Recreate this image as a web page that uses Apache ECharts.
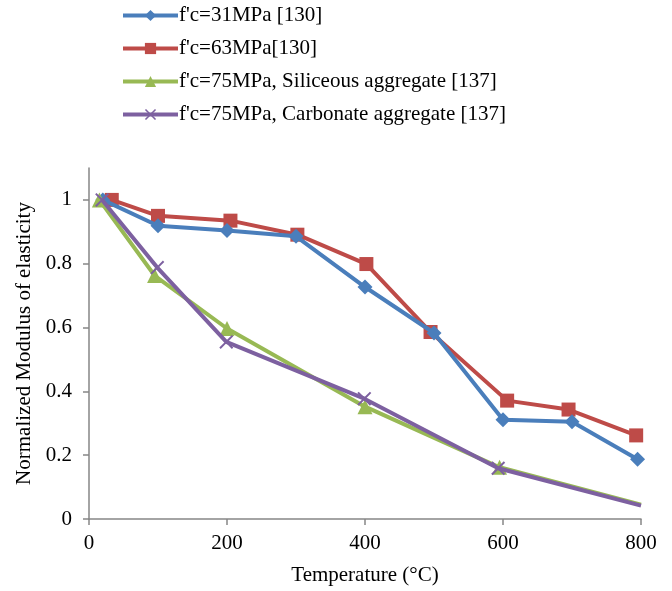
<!DOCTYPE html>
<html>
<head>
<meta charset="utf-8">
<script src="https://cdn.jsdelivr.net/npm/echarts@6/dist/echarts.min.js"></script>
<style>html,body{margin:0;padding:0;background:#fff}#c{width:672px;height:591px}</style>
</head>
<body>
<div id="c"></div>
<script>
const seriesNames = [
  "f'c=31MPa [130]",
  "f'c=63MPa[130]",
  "f'c=75MPa, Siliceous aggregate [137]",
  "f'c=75MPa, Carbonate aggregate [137]"
];
const tempBlue = [20, 100, 200, 300, 400, 500, 600, 700, 795];
const valBlue  = [1.0, 0.919, 0.904, 0.886, 0.727, 0.583, 0.311, 0.305, 0.187];
const tempRed  = [33, 100, 205, 302, 402, 495, 606, 695, 793];
const valRed   = [1.0, 0.95, 0.935, 0.891, 0.799, 0.586, 0.371, 0.343, 0.262];
const tempGreen = [15, 95, 200, 400, 595, 800];
const valGreen  = [1.0, 0.763, 0.597, 0.352, 0.162, 0.045];
const tempPurple = [19, 99, 199, 399, 593, 800];
const valPurple  = [1.0, 0.788, 0.555, 0.377, 0.159, 0.042];
const xTicks = [0, 200, 400, 600, 800];
const yTicks = [0, 0.2, 0.4, 0.6, 0.8, 1];

const colors = ['#4A7EBB', '#BE4B48', '#98B954', '#7D60A0'];
const xPath = 'path://M0,1L1,0L5,4L9,0L10,1L6,5L10,9L9,10L5,6L1,10L0,9L4,5Z';

function pts(xs, ys, hideLast) {
  return xs.map((x, i) => {
    const d = {value: [x, ys[i]]};
    if (hideLast && i === xs.length - 1) d.symbol = 'none';
    return d;
  });
}

const font = 'Liberation Serif';
const chart = echarts.init(document.getElementById('c'), null, {renderer: 'canvas'});
chart.setOption({
  animation: false,
  color: colors,
  legend: {
    orient: 'vertical',
    left: 116,
    top: 0,
    itemGap: 12,
    itemWidth: 55,
    itemHeight: 14,
    lineStyle: {width: 4},
    textStyle: {fontFamily: font, fontSize: 21, color: '#000', padding: [0,0,0,-4]},
    data: seriesNames
  },
  grid: {left: 89, right: 31, top: 168, bottom: 70, containLabel: false},
  xAxis: {
    type: 'value', min: 0, max: 800, interval: 200,
    name: 'Temperature (°C)', nameLocation: 'middle', nameGap: 46,
    nameTextStyle: {fontFamily: font, fontSize: 21, color: '#000'},
    axisLine: {show: true, lineStyle: {color: '#868686', width: 1.5}},
    axisTick: {show: true, length: 6, lineStyle: {color: '#868686', width: 1.5}},
    axisLabel: {fontFamily: font, fontSize: 21, color: '#000', margin: 14,
      formatter: v => xTicks.includes(v) ? String(v) : ''},
    splitLine: {show: false}
  },
  yAxis: {
    type: 'value', min: 0, max: 1.1, interval: 0.2,
    name: 'Normalized Modulus of elasticity', nameLocation: 'middle', nameGap: 54,
    nameTextStyle: {fontFamily: font, fontSize: 21, color: '#000'},
    axisLine: {show: true, lineStyle: {color: '#868686', width: 1.5}},
    axisTick: {show: true, length: 6, lineStyle: {color: '#868686', width: 1.5}},
    axisLabel: {fontFamily: font, fontSize: 21, color: '#000', margin: 17, showMaxLabel: false,
      formatter: v => { const r = Math.round(v * 10) / 10; return yTicks.includes(r) && Math.abs(r - v) < 1e-6 ? String(r) : ''; }},
    splitLine: {show: false}
  },
  series: [
    {name: seriesNames[0], type: 'line', data: pts(tempBlue, valBlue), symbol: 'diamond', symbolSize: 15,
      lineStyle: {width: 4, color: colors[0]}, itemStyle: {color: colors[0]}, z: 3},
    {name: seriesNames[1], type: 'line', data: pts(tempRed, valRed), symbol: 'rect', symbolSize: 14,
      lineStyle: {width: 4, color: colors[1]}, itemStyle: {color: colors[1]}, z: 2},
    {name: seriesNames[2], type: 'line', data: pts(tempGreen, valGreen, true), symbol: 'triangle', symbolSize: 15,
      lineStyle: {width: 4, color: colors[2]}, itemStyle: {color: colors[2]}, z: 4},
    {name: seriesNames[3], type: 'line', data: pts(tempPurple, valPurple, true), symbol: xPath, symbolSize: 14,
      lineStyle: {width: 4, color: colors[3]}, itemStyle: {color: colors[3]}, z: 5}
  ]
});
</script>
</body>
</html>
